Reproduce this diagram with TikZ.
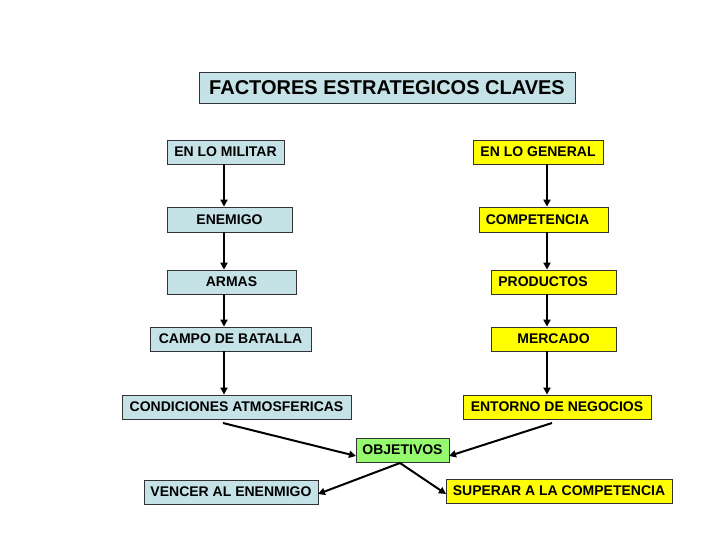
\documentclass[tikz,border=0pt]{standalone}
\usepackage{fontspec}
\setmainfont{Liberation Sans}
\usetikzlibrary{arrows.meta}
\definecolor{lblue}{RGB}{197,226,231}
\definecolor{lyellow}{RGB}{255,255,0}
\definecolor{lgreen}{RGB}{150,250,110}
\tikzset{
  box/.style={draw=black!80, line width=0.8pt, rectangle, inner sep=0pt,
    font=\fontsize{14}{16}\selectfont\bfseries, text=black},
  bluebox/.style={box, fill=lblue},
  yelbox/.style={box, fill=lyellow},
  grnbox/.style={box, fill=lgreen},
  arr/.style={line width=2pt, -{Triangle[length=7pt,width=7pt]}},
}
\begin{document}
\begin{tikzpicture}[x=1pt,y=-1pt]
\path[use as bounding box, fill=white] (0,0) rectangle (720,540);
% title
\node[bluebox, minimum width=376, minimum height=31, font=\fontsize{20}{22}\selectfont\bfseries] (title) at (387,87.5) {FACTORES ESTRATEGICOS CLAVES};
% left column
\node[bluebox, minimum width=117, minimum height=24] (milit) at (225.5,152) {EN LO MILITAR};
\node[bluebox, minimum width=125, minimum height=25] (enem) at (229.5,219.5) {ENEMIGO};
\node[bluebox, minimum width=129, minimum height=24] (armas) at (231.5,282) {ARMAS};
\node[bluebox, minimum width=161, minimum height=24] (campo) at (230.5,339) {CAMPO DE BATALLA};
\node[bluebox, minimum width=229, minimum height=24] (cond) at (236.5,407) {CONDICIONES ATMOSFERICAS};
\node[bluebox, minimum width=174, minimum height=24] (vencer) at (231,492) {VENCER AL ENENMIGO};
% right column
\node[yelbox, minimum width=130, minimum height=24] (gen) at (538,152) {EN LO GENERAL};
\node[yelbox, minimum width=129, minimum height=25] (comp) at (543.5,219.5) {COMPETENCIA\kern12pt\relax};
\node[yelbox, minimum width=125, minimum height=24] (prod) at (553.5,282) {PRODUCTOS\kern21pt\relax};
\node[yelbox, minimum width=125, minimum height=24] (merc) at (553.5,339) {MERCADO};
\node[yelbox, minimum width=188, minimum height=24] (ent) at (557,407) {ENTORNO DE NEGOCIOS};
\node[yelbox, minimum width=226, minimum height=24] (sup) at (559,491) {SUPERAR A LA COMPETENCIA};
% center
\node[grnbox, minimum width=93, minimum height=24] (obj) at (402.5,450) {OBJETIVOS};
% column axes
\coordinate (lx) at (224,0);
\coordinate (rx) at (547,0);
\draw[arr] (milit.south -| lx) -- (enem.north -| lx);
\draw[arr] (enem.south -| lx) -- (armas.north -| lx);
\draw[arr] (armas.south -| lx) -- (campo.north -| lx);
\draw[arr] (campo.south -| lx) -- (cond.north -| lx);
\draw[arr] (gen.south -| rx) -- (comp.north -| rx);
\draw[arr] (comp.south -| rx) -- (prod.north -| rx);
\draw[arr] (prod.south -| rx) -- (merc.north -| rx);
\draw[arr] (merc.south -| rx) -- (ent.north -| rx);
% diagonal arrows
\coordinate (cs) at (223,423);
\coordinate (es) at (552,423);
\coordinate (ob) at (400,463);
\coordinate (objL) at (356,456);
\coordinate (objR) at (449,456);
\coordinate (vR) at (318,494);
\coordinate (sL) at (446,494);
\draw[arr] (cs) -- (objL);
\draw[arr] (es) -- (objR);
\draw[arr] (ob) -- (vR);
\draw[arr] (ob) -- (sL);
\end{tikzpicture}
\end{document}
